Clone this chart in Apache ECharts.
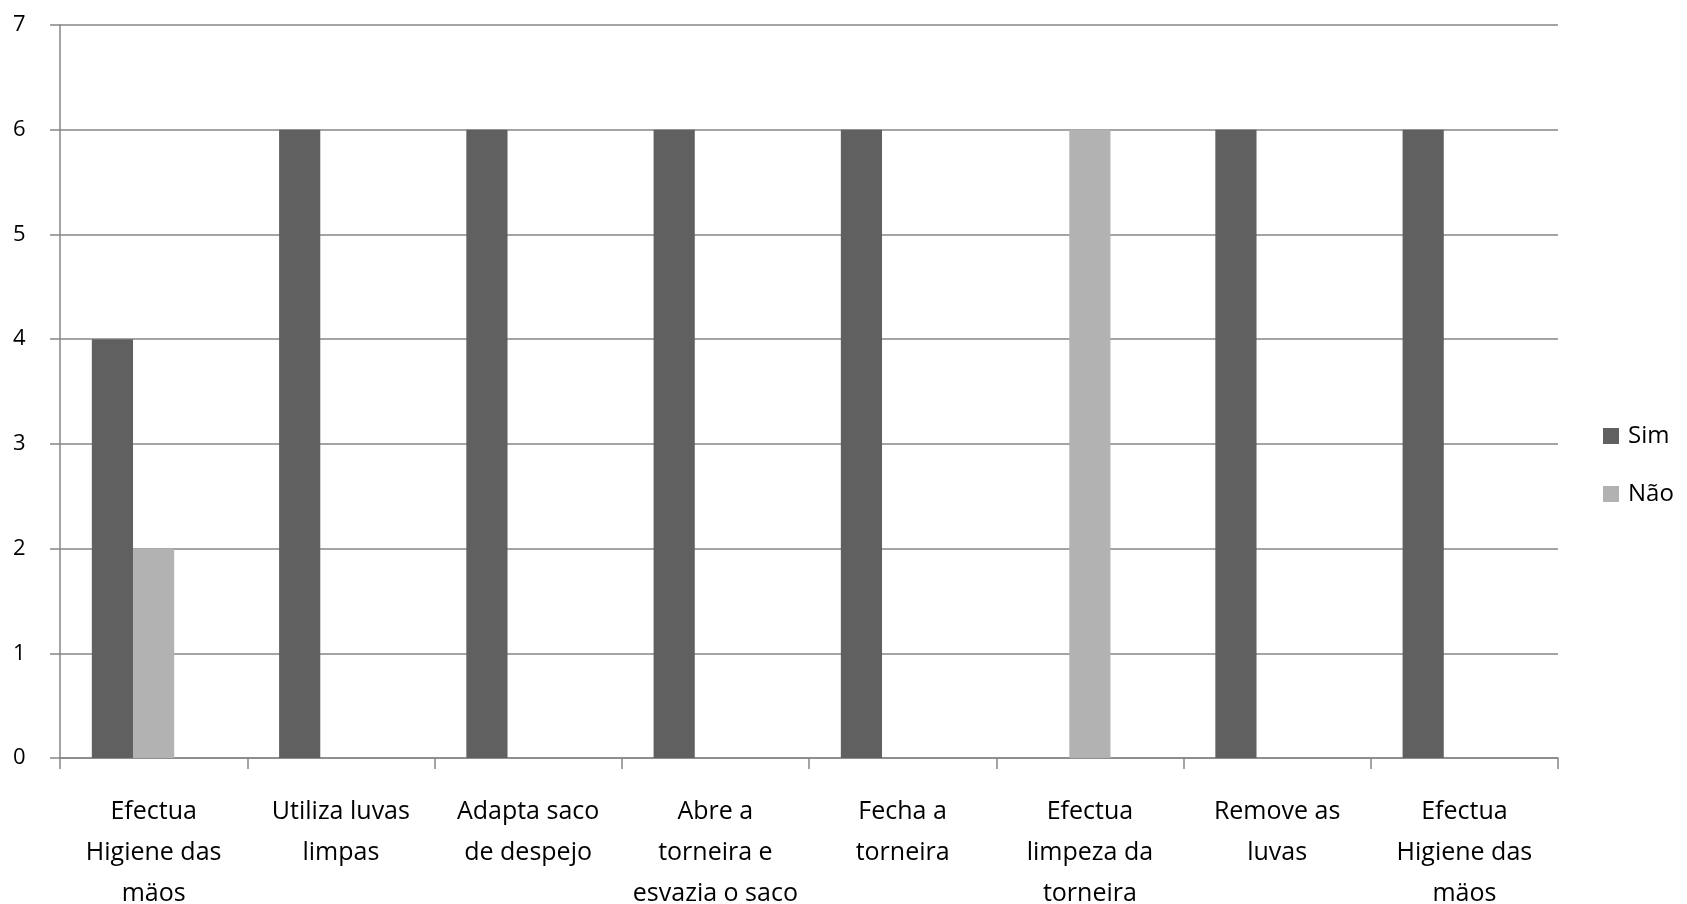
<!DOCTYPE html>
<html>
<head>
<meta charset="utf-8">
<script src="https://cdn.jsdelivr.net/npm/echarts@6/dist/echarts.min.js"></script>
<style>
  html, body { margin: 0; padding: 0; background: #fff; }
  #chart { width: 1687px; height: 904px; }
</style>
</head>
<body>
<div id="chart"></div>
<script>
const categories = [
  "Efectua\nHigiene das\nmäos",
  "Utiliza luvas\nlimpas",
  "Adapta saco\nde despejo",
  "Abre a\ntorneira e\nesvazia o saco",
  "Fecha a\ntorneira",
  "Efectua\nlimpeza da\ntorneira",
  "Remove as\nluvas",
  "Efectua\nHigiene das\nmäos"
];
const simValues = [4, 6, 6, 6, 6, 0, 6, 6];
const naoValues = [2, 0, 0, 0, 0, 6, 0, 0];
// third (empty) series slot, like the original spreadsheet chart
const emptyValues = [null, null, null, null, null, null, null, null];
const yTicks = [0, 1, 2, 3, 4, 5, 6, 7];

const gridColor = '#868686';
const font = 'Open Sans';

const chart = echarts.init(document.getElementById('chart'));

chart.setOption({
  animation: false,
  textStyle: { fontFamily: font, color: '#000' },
  grid: { left: 60, right: 129, top: 25, bottom: 146, containLabel: false, outerBoundsMode: 'none' },
  legend: {
    data: ['Sim', 'Não'],
    orient: 'vertical',
    left: 1603,
    top: 424,
    padding: 0,
    itemWidth: 16,
    itemHeight: 16,
    itemGap: 34,
    icon: 'rect',
    textStyle: { fontFamily: font, fontSize: 24, color: '#000', padding: [0, 0, 0, 4] }
  },
  xAxis: {
    type: 'category',
    data: categories,
    axisLine: { lineStyle: { color: gridColor, width: 1.5 } },
    axisTick: { show: true, length: 11, lineStyle: { color: gridColor, width: 1.5 } },
    axisLabel: {
      interval: 0,
      margin: 33,
      fontFamily: font,
      fontSize: 25,
      lineHeight: 41,
      color: '#000',
      align: 'center'
    }
  },
  yAxis: {
    type: 'value',
    min: yTicks[0],
    max: yTicks[yTicks.length - 1],
    interval: 1,
    axisLine: { show: true, lineStyle: { color: gridColor, width: 1.5 } },
    axisTick: { show: true, length: 10, lineStyle: { color: gridColor, width: 1.5 } },
    splitLine: { lineStyle: { color: gridColor, width: 1.5 } },
    axisLabel: { margin: 47, fontFamily: font, fontSize: 22, color: '#000', align: 'left' }
  },
  series: [
    {
      name: 'Sim',
      type: 'bar',
      data: simValues,
      barGap: '0%',
      barCategoryGap: '34%',
      itemStyle: { color: '#606060' }
    },
    {
      name: 'Não',
      type: 'bar',
      data: naoValues,
      itemStyle: { color: '#b2b2b2' }
    },
    {
      name: 'Série3',
      type: 'bar',
      data: emptyValues,
      itemStyle: { color: '#909090' }
    }
  ]
});
</script>
</body>
</html>
